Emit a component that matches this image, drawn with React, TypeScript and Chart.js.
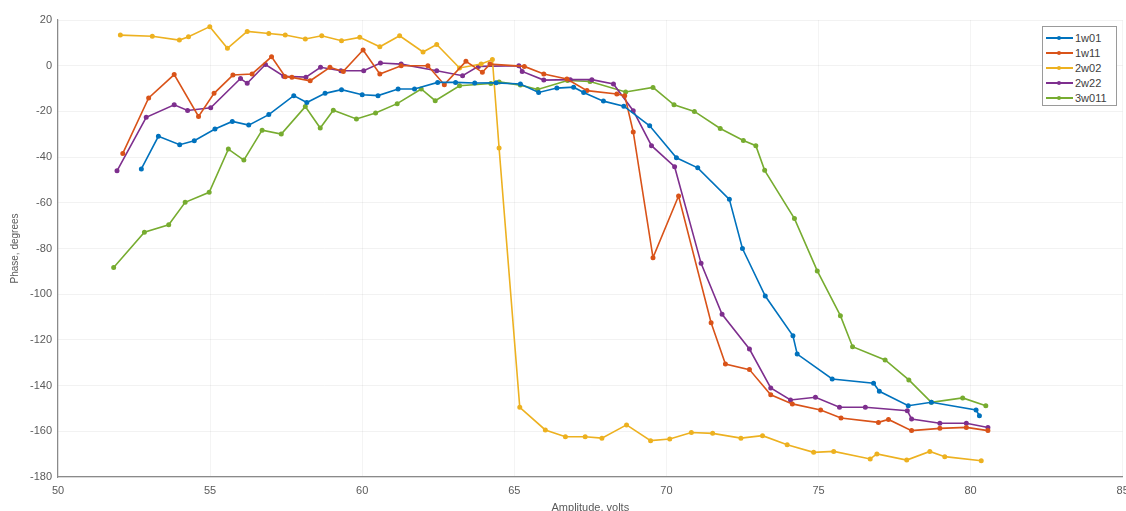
import React, { useEffect, useRef } from 'react';
import { Chart, registerables } from 'chart.js';

Chart.register(...registerables);

const seriesNames = ['1w01', '1w11', '2w02', '2w22', '3w011'];
const seriesColors = ['#0072BD', '#D95319', '#EDB120', '#7E2F8E', '#77AC30'];

const xTicks = [50, 55, 60, 65, 70, 75, 80, 85];
const yTicks = [20, 0, -20, -40, -60, -80, -100, -120, -140, -160, -180];

const x1w01 = [52.74, 53.3, 54.0, 54.48, 55.16, 55.73, 56.27, 56.93, 57.75, 58.18, 58.78, 59.32, 60.0, 60.52, 61.18, 61.72, 62.48, 63.07, 63.7, 64.4, 65.2, 65.8, 66.4, 66.95, 67.28, 67.93, 68.6, 69.45, 70.33, 71.03, 72.07, 72.5, 73.25, 74.16, 74.3, 75.45, 76.81, 77.0, 77.95, 78.71, 80.18, 80.29];
const y1w01 = [-45.2, -30.9, -34.6, -32.8, -27.7, -24.4, -26, -21.4, -13.1, -16.1, -12.1, -10.5, -12.7, -13.1, -10.2, -10.2, -7.3, -7.3, -7.6, -7.5, -8.0, -11.7, -9.8, -9.4, -11.7, -15.5, -17.7, -26.3, -40.3, -44.7, -58.5, -80, -100.8, -118.2, -126.2, -137.1, -139, -142.5, -148.8, -147.3, -150.7, -153.2];

const x1w11 = [52.13, 52.98, 53.82, 54.62, 55.13, 55.75, 56.38, 57.02, 57.47, 57.69, 58.29, 58.94, 59.38, 60.03, 60.58, 61.28, 62.16, 62.7, 63.41, 63.95, 64.2, 65.33, 65.97, 66.73, 67.39, 68.37, 68.63, 68.91, 69.56, 70.4, 71.47, 71.94, 72.73, 73.43, 74.14, 75.07, 75.74, 76.97, 77.3, 78.06, 78.99, 79.86, 80.57];
const y1w11 = [-38.4, -14.1, -3.9, -22.2, -12.1, -4.1, -3.6, 3.9, -4.8, -5.1, -6.6, -0.7, -2.5, 6.9, -3.6, 0, 0, -8.3, 1.9, -2.9, 0.7, -0.3, -3.6, -5.8, -10.9, -12.4, -13.1, -29, -84, -57, -112.5, -130.6, -133, -144, -148, -150.7, -154.2, -156.1, -154.8, -159.7, -158.7, -158.3, -159.7];

const x2w02 = [52.05, 53.1, 53.99, 54.29, 54.99, 55.57, 56.22, 56.93, 57.47, 58.13, 58.67, 59.32, 59.92, 60.58, 61.23, 62.0, 62.45, 63.2, 63.91, 64.28, 64.5, 65.18, 66.02, 66.68, 67.33, 67.88, 68.69, 69.48, 70.11, 70.82, 71.52, 72.45, 73.16, 73.97, 74.84, 75.5, 76.7, 76.92, 77.9, 78.66, 79.15, 80.35];
const y2w02 = [13.4, 12.9, 11.2, 12.7, 17.1, 7.6, 15.0, 14.1, 13.4, 11.7, 13.1, 10.9, 12.4, 8.3, 13.1, 6.0, 9.3, -1.0, 0.7, 2.7, -36, -149.5, -159.4, -162.4, -162.4, -163, -157.2, -164.1, -163.4, -160.5, -160.9, -163, -161.9, -165.9, -169.2, -168.8, -172.1, -169.9, -172.6, -168.8, -171.1, -172.9];

const x2w22 = [51.94, 52.9, 53.82, 54.26, 55.02, 56.0, 56.22, 56.82, 57.42, 58.15, 58.63, 59.3, 60.05, 60.6, 61.28, 62.45, 63.3, 63.82, 65.15, 65.26, 65.97, 66.84, 67.55, 68.26, 68.91, 69.51, 70.27, 71.14, 71.83, 72.73, 73.43, 74.08, 74.9, 75.69, 76.54, 77.92, 78.06, 78.99, 79.86, 80.57];
const y2w22 = [-46, -22.6, -17.1, -19.6, -18.4, -5.6, -7.7, 0.5, -4.6, -5.0, -0.7, -2.2, -2.2, 1.2, 0.7, -2.2, -4.4, -0.3, 0, -2.5, -6.3, -6.1, -6.1, -8.0, -19.7, -35, -44.2, -86.5, -108.8, -124, -141, -146.3, -145.1, -149.5, -149.5, -151, -154.6, -156.5, -156.5, -158.3];

const x3w011 = [51.83, 52.84, 53.64, 54.18, 54.97, 55.6, 56.11, 56.71, 57.34, 58.13, 58.62, 59.05, 59.81, 60.44, 61.15, 61.94, 62.4, 63.2, 64.23, 64.5, 65.2, 65.77, 66.75, 67.49, 68.66, 69.56, 70.25, 70.92, 71.77, 72.53, 72.94, 73.23, 74.21, 74.96, 75.72, 76.12, 77.19, 77.97, 78.71, 79.74, 80.5];
const y3w011 = [-88.3, -72.9, -69.6, -59.8, -55.4, -36.5, -41.3, -28.2, -29.9, -17.9, -27.3, -19.5, -23.3, -20.7, -16.6, -10.2, -15.3, -8.8, -7.8, -7.1, -8.5, -10.4, -6.5, -6.9, -11.5, -9.5, -17.1, -20, -27.5, -32.7, -35, -45.8, -66.9, -89.8, -109.4, -123, -128.8, -137.5, -147.3, -145.4, -148.8];

const seriesX = [x1w01, x1w11, x2w02, x2w22, x3w011];
const seriesY = [y1w01, y1w11, y2w02, y2w22, y3w011];

const FONT = '"Liberation Sans", Arial, sans-serif';
const TEXT = '#5a5a5a';

export default function App() {
  const ref = useRef<HTMLCanvasElement | null>(null);

  useEffect(() => {
    if (!ref.current) return;
    const datasets = seriesNames.map((name, i) => ({
      label: name,
      data: seriesX[i].map((x, j) => ({ x, y: seriesY[i][j] })),
      borderColor: seriesColors[i],
      backgroundColor: seriesColors[i],
      borderWidth: 1.6,
      pointRadius: 1.7,
      pointHoverRadius: 1.7,
      pointStyle: 'circle',
      tension: 0,
      fill: false,
    }));
    const chart = new Chart(ref.current, {
      type: 'line',
      data: { datasets },
      options: {
        animation: false,
        responsive: false,
        maintainAspectRatio: false,
        layout: { padding: { left: 0, top: 20, right: 3, bottom: 0 } },
        plugins: {
          legend: { display: false },
          tooltip: { enabled: false },
        },
        scales: {
          x: {
            type: 'linear',
            min: 50,
            max: 85,
            afterBuildTicks: (scale: any) => {
              scale.ticks = xTicks.map((v) => ({ value: v }));
            },
            afterFit: (scale: any) => {
              scale.height = 34;
              scale.paddingLeft = 0;
              scale.paddingRight = 0;
            },
            grid: { color: 'rgba(0,0,0,0.045)', drawTicks: false },
            border: { color: '#8a8a8a', width: 1.2 },
            ticks: {
              padding: 7,
              color: TEXT,
              font: { family: FONT, size: 11 },
              maxRotation: 0,
              autoSkip: false,
            },
            title: {
              display: true,
              text: 'Amplitude, volts',
              color: TEXT,
              font: { family: FONT, size: 11 },
              padding: { top: 0, bottom: -4 },
            },
          },
          y: {
            type: 'linear',
            min: -180,
            max: 20,
            afterBuildTicks: (scale: any) => {
              scale.ticks = yTicks.map((v) => ({ value: v }));
            },
            afterFit: (scale: any) => {
              scale.width = 58;
              scale.paddingTop = 0;
              scale.paddingBottom = 0;
            },
            grid: { color: 'rgba(0,0,0,0.05)', drawTicks: false },
            border: { color: '#8a8a8a', width: 1.2 },
            ticks: {
              padding: 6,
              color: TEXT,
              font: { family: FONT, size: 11 },
              autoSkip: false,
            },
            title: {
              display: true,
              text: 'Phase, degrees',
              color: TEXT,
              font: { family: FONT, size: 10 },
              padding: { top: 9, bottom: 0 },
            },
          },
        },
      },
    });
    return () => chart.destroy();
  }, []);

  return (
    <div style={{ position: 'absolute', left: 0, top: 0, width: 1126, height: 511, background: '#fff' }}>
      <canvas ref={ref} width={1126} height={511} style={{ width: 1126, height: 511, display: 'block' }} />
      <div
        style={{
          position: 'absolute',
          left: 1042,
          top: 26,
          width: 75,
          height: 80,
          border: '1px solid #9a9a9a',
          background: '#fff',
          boxSizing: 'border-box',
          paddingTop: 3,
        }}
      >
        {seriesNames.map((name, i) => (
          <div key={name} style={{ display: 'flex', alignItems: 'center', height: 15.2 }}>
            <div style={{ position: 'relative', width: 27, height: 10, marginLeft: 3 }}>
              <div style={{ position: 'absolute', left: 0, right: 0, top: 4, height: 2, background: seriesColors[i] }} />
              <div
                style={{
                  position: 'absolute',
                  left: 11,
                  top: 3,
                  width: 4,
                  height: 4,
                  borderRadius: 2,
                  background: seriesColors[i],
                }}
              />
            </div>
            <span style={{ fontFamily: FONT, fontSize: 11, color: '#404040', marginLeft: 2, lineHeight: '12px' }}>{name}</span>
          </div>
        ))}
      </div>
    </div>
  );
}
